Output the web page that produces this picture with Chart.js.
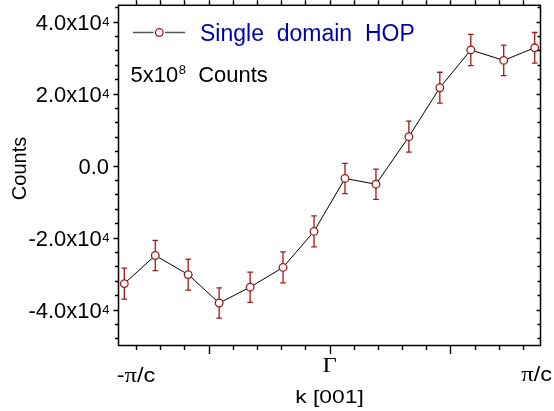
<!DOCTYPE html>
<html>
<head>
<meta charset="utf-8">
<script src="https://cdn.jsdelivr.net/npm/chart.js@4.4.1/dist/chart.umd.min.js"></script>
<style>
  html, body { margin: 0; padding: 0; background: #fff; }
</style>
</head>
<body>
<canvas id="chartHop" width="554" height="411"></canvas>
<script>
// k along [001], in units of pi/c
const kValues = [-1.06, -0.90, -0.73, -0.57, -0.41, -0.24, -0.08, 0.08, 0.24, 0.41, 0.57, 0.73, 0.90, 1.06];
// counts and error bars
const countValues = [-32800, -25000, -30300, -38200, -33800, -28300, -18300, -3600, -5200, 8000, 21600, 32100, 29200, 32700];
const countErrors = [4300, 4200, 4300, 4200, 4200, 4300, 4300, 4200, 4200, 4300, 4300, 4350, 4250, 4250];

// tick labels
const yMajorTicks = [-40000, -20000, 0, 20000, 40000];
const yTickLabels = ['-4.0x10^4', '-2.0x10^4', '0.0', '2.0x10^4', '4.0x10^4'];
const xMajorTicks = [-0.625, 0, 0.625];
const xTickLabels = ['-π/c', 'Γ', 'π/c'];
const xLabelPositions = [-1, 0, 1.07];

const seriesLabel = 'Single  domain  HOP';
const noteText = ['5x10', '8', '  Counts'];

const RED = '#9e1a1a';
const SANS = '"Liberation Sans", Arial, sans-serif';
const SERIF = '"Liberation Serif", "Times New Roman", serif';

// text with greek letters in serif, the rest sans, stretched sideways
function drawMixed(ctx, text, cx, baseline, size, sx) {
  const parts = [];
  for (const ch of text) {
    const font = /[Α-ω]/.test(ch) ? (size + 1) + 'px ' + SERIF : size + 'px ' + SANS;
    ctx.font = font;
    parts.push({ ch: ch, font: font, w: ctx.measureText(ch).width });
  }
  const total = parts.reduce((a, p) => a + p.w, 0);
  ctx.save();
  ctx.translate(cx - total * sx / 2, baseline);
  ctx.scale(sx, 1);
  let x = 0;
  ctx.textAlign = 'left';
  ctx.textBaseline = 'alphabetic';
  parts.forEach(p => {
    ctx.font = p.font;
    ctx.fillText(p.ch, x, 0);
    x += p.w;
  });
  ctx.restore();
}

const errorBars = {
  id: 'errorBars',
  beforeDatasetsDraw(chart) {
    const ctx = chart.ctx;
    const xs = chart.scales.x, ys = chart.scales.y;
    ctx.save();
    ctx.strokeStyle = RED;
    ctx.lineWidth = 1.3;
    kValues.forEach((k, i) => {
      const px = xs.getPixelForValue(k);
      const top = ys.getPixelForValue(countValues[i] + countErrors[i]);
      const bot = ys.getPixelForValue(countValues[i] - countErrors[i]);
      ctx.beginPath();
      ctx.moveTo(px, top); ctx.lineTo(px, bot);
      ctx.moveTo(px - 2.8, top); ctx.lineTo(px + 2.8, top);
      ctx.moveTo(px - 2.8, bot); ctx.lineTo(px + 2.8, bot);
      ctx.stroke();
    });
    ctx.restore();
  }
};

const frameAndText = {
  id: 'frameAndText',
  afterDraw(chart) {
    const ctx = chart.ctx;
    const a = chart.chartArea;
    const xs = chart.scales.x, ys = chart.scales.y;
    ctx.save();
    ctx.strokeStyle = '#000';
    ctx.lineWidth = 1.5;
    ctx.strokeRect(a.left, a.top, a.right - a.left, a.bottom - a.top);

    // x ticks: bottom outward, top outward
    const xTickPos = [];
    for (let n = 0; n <= 16; n++) xTickPos.push(-1 + n * 0.125);
    ctx.lineWidth = 1.4;
    xTickPos.forEach(v => {
      const px = Math.round(xs.getPixelForValue(v)) + 0.5;
      const major = xMajorTicks.some(m => Math.abs(m - v) < 1e-6);
      ctx.beginPath();
      ctx.moveTo(px, a.bottom);
      ctx.lineTo(px, a.bottom + (major ? 8.5 : 4.5));
      ctx.moveTo(px, a.top);
      ctx.lineTo(px, a.top - 5);
      ctx.stroke();
    });
    // y ticks: left outward, right inward
    ctx.lineWidth = 1.3;
    ctx.beginPath();
    for (let v = -48000; v <= 44000; v += 4000) {
      const py = Math.round(ys.getPixelForValue(v)) + 0.5;
      const major = yMajorTicks.includes(v);
      ctx.moveTo(a.left, py); ctx.lineTo(a.left - (major ? 5 : 3.5), py);
      ctx.moveTo(a.right, py); ctx.lineTo(a.right - (major ? 4 : 3), py);
    }
    ctx.stroke();

    ctx.fillStyle = '#000';
    // y tick labels with superscript
    yMajorTicks.forEach((v, i) => {
      const py = ys.getPixelForValue(v);
      const [main, sup] = yTickLabels[i].split('^');
      ctx.font = '22px ' + SANS;
      const wm = ctx.measureText(main).width;
      ctx.font = '13px ' + SANS;
      const ws = sup ? ctx.measureText(sup).width : 0;
      const x0 = 109 - wm - ws;
      ctx.textAlign = 'left';
      ctx.textBaseline = 'alphabetic';
      ctx.font = '22px ' + SANS;
      ctx.fillText(main, x0, py + 8.5);
      if (sup) {
        ctx.font = '13px ' + SANS;
        ctx.fillText(sup, x0 + wm + 0.5, py + 4.5);
      }
    });

    // x tick labels
    const xBaselines = [381.5, 372, 380.5];
    xTickLabels.forEach((t, i) => {
      drawMixed(ctx, t, xs.getPixelForValue(xLabelPositions[i]), xBaselines[i], 21, 1.12);
    });

    // axis titles
    drawMixed(ctx, 'k [001]', xs.getPixelForValue(0), 403, 19, 1.2);
    ctx.save();
    ctx.translate(26, 168.5);
    ctx.rotate(-Math.PI / 2);
    ctx.font = '20px ' + SANS;
    ctx.textAlign = 'center';
    ctx.textBaseline = 'alphabetic';
    ctx.fillText('Counts', 0, 0);
    ctx.restore();

    // legend
    ctx.strokeStyle = '#555';
    ctx.lineWidth = 1.5;
    ctx.beginPath();
    ctx.moveTo(133, 32.5); ctx.lineTo(153.5, 32.5);
    ctx.moveTo(165, 32.5); ctx.lineTo(185, 32.5);
    ctx.stroke();
    ctx.strokeStyle = RED;
    ctx.lineWidth = 1.3;
    ctx.fillStyle = '#fff';
    ctx.beginPath();
    ctx.arc(159.3, 32.5, 3.8, 0, Math.PI * 2);
    ctx.fill(); ctx.stroke();
    ctx.fillStyle = '#0000a8';
    ctx.font = '23px ' + SANS;
    ctx.textAlign = 'left';
    ctx.fillText(chart.data.datasets[0].label, 200, 40.5);

    // note
    ctx.fillStyle = '#000';
    ctx.font = '22px ' + SANS;
    ctx.fillText(noteText[0], 130.5, 81.5);
    let x = 130.5 + ctx.measureText(noteText[0]).width + 0.5;
    ctx.font = '13px ' + SANS;
    ctx.fillText(noteText[1], x, 74);
    x += ctx.measureText(noteText[1]).width;
    ctx.font = '22px ' + SANS;
    ctx.fillText(noteText[2], x, 81.5);
    ctx.restore();
  }
};

const ctxHop = document.getElementById('chartHop').getContext('2d');

const chartHop = new Chart(ctxHop, {
  type: 'line',
  data: {
    datasets: [{
      label: seriesLabel,
      data: kValues.map((k, i) => ({ x: k, y: countValues[i] })),
      borderColor: '#000',
      borderWidth: 1,
      pointRadius: 3.8,
      pointBorderWidth: 1.3,
      pointBorderColor: RED,
      pointBackgroundColor: '#fff',
      tension: 0
    }]
  },
  options: {
    responsive: false,
    animation: false,
    devicePixelRatio: 1,
    layout: { padding: { left: 0, right: 13.5, top: 4.5, bottom: 0 } },
    plugins: {
      legend: { display: false },
      tooltip: { enabled: false }
    },
    scales: {
      x: {
        type: 'linear',
        min: -1.09,
        max: 1.09,
        grid: { display: false },
        border: { display: false },
        ticks: { display: false },
        afterFit: s => { s.height = 65.5; }
      },
      y: {
        min: -50000,
        max: 44500,
        grid: { display: false },
        border: { display: false },
        ticks: { display: false },
        afterFit: s => { s.width = 118.5; }
      }
    }
  },
  plugins: [errorBars, frameAndText]
});
</script>
</body>
</html>
